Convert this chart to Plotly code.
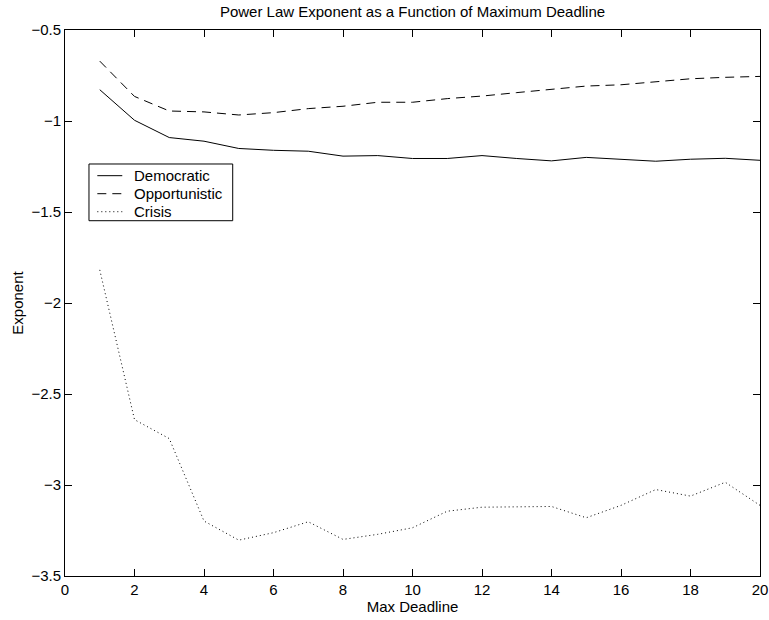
import plotly.graph_objects as go

# Max deadline values
deadline = list(range(1, 21))

# Fitted power-law exponents per scheduling policy
democratic = [-0.828, -0.996, -1.091, -1.111, -1.151, -1.161, -1.166, -1.193, -1.190, -1.206,
              -1.206, -1.190, -1.206, -1.219, -1.200, -1.210, -1.221, -1.210, -1.205, -1.216]
opportunistic = [-0.671, -0.865, -0.945, -0.950, -0.967, -0.954, -0.932, -0.919, -0.897, -0.897,
                 -0.877, -0.863, -0.844, -0.828, -0.808, -0.801, -0.786, -0.768, -0.760, -0.755]
crisis = [-1.818, -2.641, -2.745, -3.198, -3.303, -3.262, -3.202, -3.299, -3.271, -3.235,
          -3.144, -3.122, -3.120, -3.118, -3.180, -3.112, -3.025, -3.061, -2.985, -3.112]

series_names = ["Democratic", "Opportunistic", "Crisis"]
series_dash = ["solid", "9px,6px", "1px,3px"]

x_ticks = list(range(0, 21, 2))
y_ticks = [-3.5, -3, -2.5, -2, -1.5, -1, -0.5]
y_ticktext = ["\u22123.5", "\u22123", "\u22122.5", "\u22122", "\u22121.5", "\u22121", "\u22120.5"]

FONT = "Liberation Sans, Arial, Helvetica, sans-serif"
font = dict(family=FONT, size=15, color="black")

fig = go.Figure()
for name, ys, dash in zip(series_names, [democratic, opportunistic, crisis], series_dash):
    fig.add_trace(go.Scatter(x=deadline, y=ys, mode="lines", name=name, showlegend=False,
                             line=dict(color="black", width=1, dash=dash)))

# Boxed legend in the upper-left corner of the axes (paper coordinates)
leg_x0, leg_x1 = 0.0345, 0.2413
leg_y0, leg_y1 = 0.6507, 0.7546
row_y = [0.7332, 0.7002, 0.6672]
sample_x0, sample_x1, text_x = 0.0465, 0.0824, 0.0960

fig.add_shape(type="rect", xref="paper", yref="paper",
              x0=leg_x0, x1=leg_x1, y0=leg_y0, y1=leg_y1,
              line=dict(color="black", width=1), fillcolor="white", layer="above")
for name, dash, ry in zip(series_names, series_dash, row_y):
    fig.add_shape(type="line", xref="paper", yref="paper",
                  x0=sample_x0, x1=sample_x1, y0=ry, y1=ry,
                  line=dict(color="black", width=1, dash=dash), layer="above")
    fig.add_annotation(xref="paper", yref="paper", x=text_x, y=ry, text=name,
                       showarrow=False, xanchor="left", yanchor="middle", font=font)

axis_common = dict(showgrid=False, zeroline=False, showline=True, linecolor="black",
                   linewidth=1, mirror="ticks", ticks="inside", ticklen=7,
                   tickcolor="black", tickfont=font, automargin=False)

fig.update_layout(
    width=769, height=620,
    margin=dict(l=65, r=9, t=30, b=44),
    paper_bgcolor="white", plot_bgcolor="white",
    font=font,
    title=dict(text="Power Law Exponent as a Function of Maximum Deadline",
               xref="paper", x=0.5, xanchor="center",
               yref="container", y=0.981, yanchor="middle", font=font),
    xaxis=dict(range=[0, 20], tickvals=x_ticks,
               title=dict(text="Max Deadline", standoff=4, font=font), **axis_common),
    yaxis=dict(range=[-3.5, -0.5], tickvals=y_ticks, ticktext=y_ticktext,
               title=dict(text="Exponent", standoff=4, font=font), **axis_common),
    showlegend=False,
)

fig.write_html("out.html")
